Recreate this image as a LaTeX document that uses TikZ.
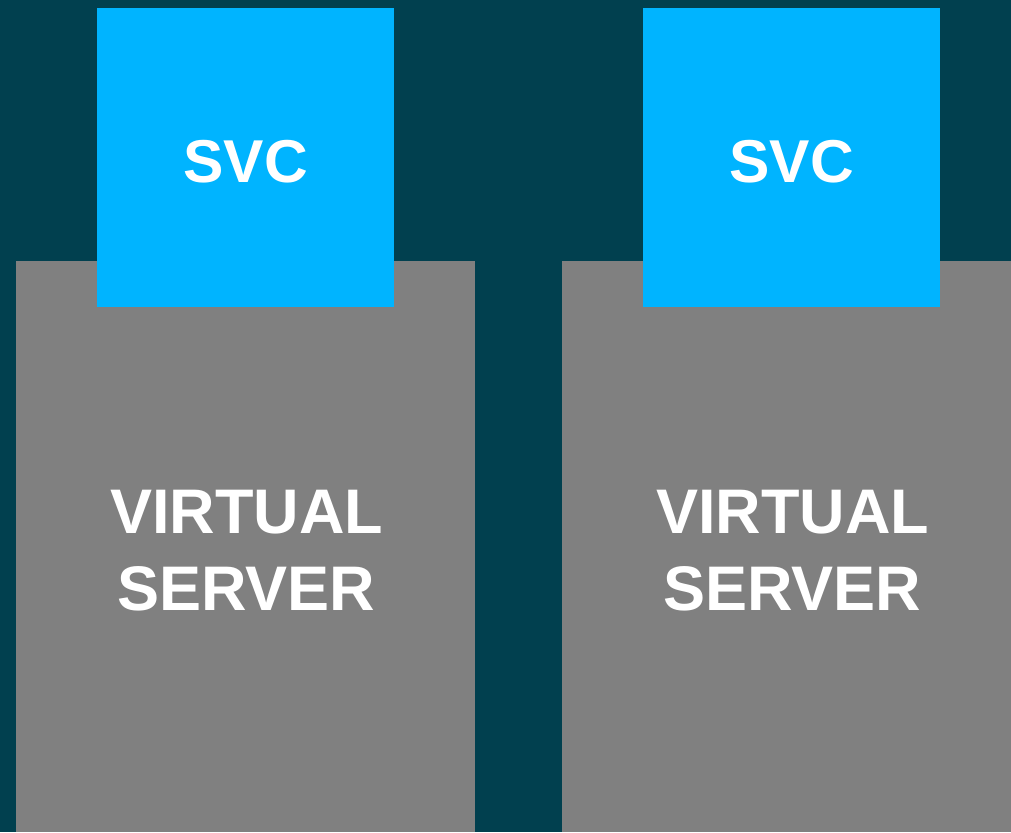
\documentclass[tikz,border=0pt]{standalone}
\usepackage{fontspec}
\setmainfont{Liberation Sans}
\definecolor{bgteal}{HTML}{01404F}
\definecolor{svcblue}{HTML}{00B4FF}
\definecolor{vsgray}{HTML}{808080}
\begin{document}
\begin{tikzpicture}[x=1pt,y=-1pt,
  vsbox/.style={fill=vsgray,draw=none},
  svcbox/.style={fill=svcblue,draw=none},
  svctext/.style={text=white,font=\fontsize{60.5}{72}\selectfont\bfseries,inner sep=0pt,anchor=base},
  vstext/.style={text=white,font=\fontsize{63}{77}\selectfont\bfseries,inner sep=0pt,anchor=base}]
  \fill[bgteal] (0,0) rectangle (1011,832);
  \useasboundingbox (0,0) rectangle (1011,832);
  % virtual servers
  \path[vsbox] (16,261) rectangle (475,832);
  \path[vsbox] (562,261) rectangle (1011,832);
  % svc boxes
  \path[svcbox] (97,8) rectangle (393.5,307);
  \path[svcbox] (643,8) rectangle (940,307);
  % labels
  \node[svctext] (svc1) at (245.8,182) {SVC};
  \node[svctext] (svc2) at (791.8,182) {SVC};
  \node[vstext] (vs1a) at (246.5,533.5) {VIRTUAL};
  \node[vstext] (vs1b) at (246,610.5) {SERVER};
  \node[vstext] (vs2a) at (792.5,533.5) {VIRTUAL};
  \node[vstext] (vs2b) at (792,610.5) {SERVER};
\end{tikzpicture}
\end{document}
